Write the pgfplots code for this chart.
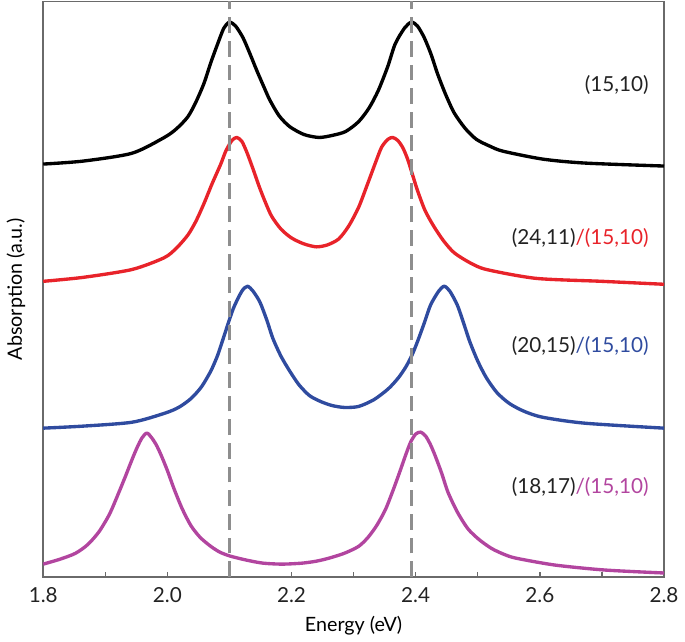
\documentclass[border=0pt]{standalone}
\usepackage{fontspec}
\setmainfont{Lato}
\usepackage{pgfplots}
\pgfplotsset{compat=1.18}

\definecolor{cRed}{HTML}{E8232A}
\definecolor{cBlue}{HTML}{2F4B9F}
\definecolor{cMag}{HTML}{B2459F}
\definecolor{cDash}{HTML}{8E8E8E}
\definecolor{cFrame}{HTML}{6A6A6A}
\definecolor{cTxt}{HTML}{222222}

\begin{document}
\begin{tikzpicture}
\begin{axis}[
    scale only axis,
    width=315pt, height=292pt,
    xmin=1.8, xmax=2.8,
    ymin=0, ymax=584,
    axis line style={cFrame, line width=0.8pt},
    xtick={1.8,2.0,2.2,2.4,2.6,2.8},
    minor x tick num=1,
    ytick=\empty,
    xtick pos=bottom,
    tick align=inside,
    major tick length=2.6pt, minor tick length=2.6pt,
    every tick/.style={cFrame, line width=0.7pt},
    xticklabel style={/pgf/number format/.cd, fixed, fixed zerofill, precision=1,
        assume math mode=true},
    tick label style={font=\fontsize{10.5}{12}\selectfont, text=cTxt, yshift=-2pt},
    label style={font=\fontsize{10.5}{12}\selectfont, text=cTxt},
    xlabel={Energy (eV)},
    ylabel={Absorption (a.u.)},
    every axis x label/.style={at={(axis description cs:0.5,-0.084)}, anchor=center},
    every axis y label/.style={at={(axis description cs:-0.044,0.5)}, anchor=center, rotate=90},
    spec/.style={line width=1.7pt, smooth, tension=0.45, line join=round},
    clip=false,
]

% (15,10)
\addplot[black, spec] coordinates {
(1.800,419) (1.864,422) (1.943,430) (1.995,446) (2.015,455) (2.033,467)
(2.046,482) (2.059,501) (2.070,522) (2.081,541) (2.091,557) (2.100,563)
(2.110,559) (2.122,547) (2.133,531) (2.144,514) (2.155,498) (2.165,484)
(2.180,468) (2.197,457) (2.220,449) (2.244,446) (2.265,448) (2.287,452)
(2.308,462) (2.325,476) (2.340,494) (2.355,518) (2.367,541) (2.382,557)
(2.393,563) (2.403,559) (2.414,547) (2.425,530) (2.435,511) (2.448,490)
(2.462,471) (2.480,455) (2.498,444) (2.520,437) (2.541,432) (2.605,424)
(2.673,420) (2.800,417)
};

% (24,11)/(15,10)
\addplot[cRed, spec] coordinates {
(1.800,300) (1.864,304) (1.943,312) (1.995,324) (2.015,334) (2.033,347)
(2.046,361) (2.059,379) (2.072,399) (2.086,419) (2.094,432) (2.104,443)
(2.112,446) (2.120,442) (2.128,431) (2.138,414) (2.148,396) (2.158,380)
(2.168,366) (2.183,353) (2.200,344) (2.220,338) (2.240,335) (2.258,337)
(2.276,343) (2.292,356) (2.308,375) (2.322,398) (2.335,420) (2.345,436)
(2.355,444) (2.363,446) (2.371,443) (2.379,436) (2.387,424) (2.395,408)
(2.403,392) (2.415,372) (2.429,356) (2.445,341) (2.462,329) (2.487,319)
(2.514,312) (2.594,303) (2.700,300) (2.800,297)
};

% (20,15)/(15,10)
\addplot[cBlue, spec] coordinates {
(1.800,151) (1.863,153) (1.943,157) (1.995,166) (2.018,172) (2.038,181)
(2.055,193) (2.070,209) (2.081,225) (2.090,242) (2.106,272) (2.120,290)
(2.129,295) (2.138,290) (2.149,279) (2.160,261) (2.170,242) (2.183,224)
(2.197,209) (2.212,195) (2.229,184) (2.247,178) (2.265,174) (2.285,172)
(2.308,173) (2.333,180) (2.356,191) (2.372,202) (2.384,213) (2.394,225)
(2.403,239) (2.414,258) (2.424,276) (2.437,290) (2.446,295) (2.455,290)
(2.467,276) (2.477,258) (2.487,239) (2.500,219) (2.514,202) (2.531,187)
(2.551,176) (2.575,168) (2.605,162) (2.673,156) (2.800,151)
};

% (18,17)/(15,10)
\addplot[cMag, spec] coordinates {
(1.800,13) (1.827,18) (1.852,24) (1.872,33) (1.890,46) (1.907,64)
(1.922,86) (1.933,103) (1.943,119) (1.951,131) (1.959,141) (1.967,146)
(1.975,141) (1.983,133) (1.991,122) (2.000,108) (2.011,89) (2.024,69)
(2.038,52) (2.053,40) (2.070,31) (2.085,25) (2.102,21) (2.128,17)
(2.154,14) (2.185,13) (2.217,14) (2.240,16) (2.260,19) (2.285,24)
(2.308,31) (2.323,40) (2.337,52) (2.351,68) (2.363,87) (2.374,106)
(2.384,124) (2.392,137) (2.400,145) (2.408,147) (2.416,143) (2.424,134)
(2.432,122) (2.442,105) (2.452,86) (2.467,66) (2.484,49) (2.502,38)
(2.522,29) (2.542,23) (2.562,19) (2.625,12) (2.705,7) (2.800,4)
};

% reference lines
\addplot[cDash, line width=1.5pt, dash pattern=on 8pt off 4pt] coordinates {(2.10,0) (2.10,584)};
\addplot[cDash, line width=1.5pt, dash pattern=on 8pt off 4pt] coordinates {(2.393,0) (2.393,584)};

\begin{scope}[every node/.style={anchor=east, font=\fontsize{10.5}{12}\selectfont, inner sep=0pt}]
\node[text=cTxt] at (axis cs:2.776,499) {(15,10)};
\node at (axis cs:2.776,344) {\textcolor{cTxt}{(24,11)}\textcolor{cRed}{/(15,10)}};
\node at (axis cs:2.776,234) {\textcolor{cTxt}{(20,15)}\textcolor{cBlue}{/(15,10)}};
\node at (axis cs:2.776,91) {\textcolor{cTxt}{(18,17)}\textcolor{cMag}{/(15,10)}};
\end{scope}

\end{axis}
\end{tikzpicture}
\end{document}
